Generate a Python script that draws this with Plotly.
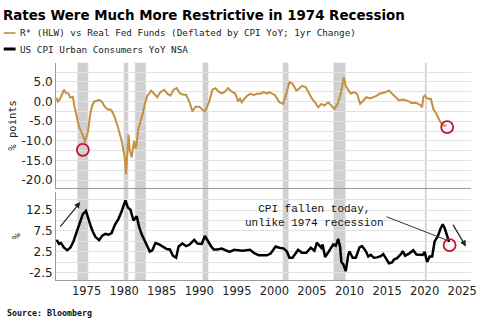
import plotly.graph_objects as go

# ---------------- data ----------------
rstar_dates = ["1971-01","1971-03","1971-06","1971-09","1972-01","1972-04","1972-08","1972-11",
 "1973-03","1973-06","1973-08","1973-11","1974-01","1974-05","1974-08","1974-10","1974-12",
 "1975-03","1975-07","1975-10","1976-01","1976-05","1976-09","1977-01","1977-06","1977-11",
 "1978-02","1978-05","1978-10","1979-03","1979-07","1979-09","1979-12","1980-02","1980-04",
 "1980-06","1980-08","1980-10","1981-01","1981-03","1981-05","1981-07","1981-09","1981-11",
 "1982-04","1982-07","1982-10","1983-02","1983-05","1983-08","1983-11","1984-02","1984-06",
 "1984-09","1984-12","1985-05","1985-10","1986-03","1986-08","1987-01","1987-06","1987-12",
 "1988-04","1988-09","1989-02","1989-07","1990-01","1990-06","1990-10","1991-01","1991-05",
 "1991-10","1992-03","1992-08","1993-01","1993-06","1993-11","1994-05","1994-10","1995-01",
 "1995-03","1995-06","1995-09","1996-01","1996-06","1996-11","1997-04","1997-09","1998-03",
 "1998-08","1999-02","1999-05","1999-10","2000-02","2000-09","2001-03","2001-08","2002-01",
 "2002-06","2002-09","2002-12","2003-04","2003-09","2004-03","2004-08","2005-01","2005-06",
 "2005-11","2006-04","2006-09","2007-03","2007-08","2008-01","2008-06","2008-11","2009-04",
 "2009-07","2009-10","2010-03","2010-08","2011-01","2011-06","2011-11","2012-04","2012-10",
 "2013-03","2013-09","2014-01","2014-06","2014-11","2015-04","2015-09","2016-01","2016-08",
 "2017-03","2017-07","2018-01","2018-04","2018-10","2019-03","2019-07","2019-09","2019-11",
 "2020-01","2020-06","2020-11","2021-03","2021-08","2022-01","2022-06","2022-12"]
rstar_vals = [1.0,0.0,0.5,1.5,3.0,2.2,2.0,1.0,
 1.2,-1.5,-3.1,-5.5,-6.5,-7.8,-9.0,-10.4,-9.5,
 -7.8,-3.1,-1.0,0.0,0.3,0.4,0.0,-1.3,-2.1,
 -2.0,-2.3,-4.0,-6.5,-8.5,-10.0,-12.5,-14.2,-18.5,
 -11.7,-8.4,-12.5,-14.2,-12.0,-10.0,-12.0,-10.9,-7.4,
 -4.9,-3.0,-0.6,1.5,2.0,2.8,2.3,1.8,1.1,
 2.0,2.5,3.0,2.0,1.5,3.0,3.4,2.1,1.7,
 1.7,0.0,-2.5,-1.3,-1.3,-2.1,-2.5,-1.5,0.0,
 3.0,3.4,2.5,2.1,2.5,3.4,2.5,2.1,1.0,
 0.0,0.7,-0.2,0.7,1.5,2.0,1.6,2.0,2.0,
 2.4,2.0,2.4,2.0,1.6,-0.2,-0.6,2.0,4.9,
 4.5,3.5,2.8,3.2,4.0,3.7,2.0,0.7,-0.2,
 -1.5,-0.6,-1.0,-0.2,-1.0,-1.9,-0.6,2.0,6.2,
 4.0,3.2,2.0,2.4,2.0,-0.6,0.3,1.1,0.8,
 1.1,1.5,2.0,2.2,2.4,2.8,2.0,1.2,0.3,
 0.5,0.3,0.0,-0.4,-0.3,-0.6,-1.0,-1.5,1.1,
 1.5,0.7,0.7,-1.9,-3.2,-4.9,-6.1,-6.1]

cpi_dates = ["1971-01","1971-05","1971-08","1972-01","1972-06","1972-11","1973-04","1973-10",
 "1974-03","1974-07","1974-12","1975-04","1975-08","1975-11","1976-03","1976-09","1977-02",
 "1977-07","1977-12","1978-05","1978-10","1979-04","1979-09","1980-03","1980-07","1980-11",
 "1981-04","1981-09","1982-01","1982-05","1982-10","1983-02","1983-06","1983-10","1984-03",
 "1984-09","1985-03","1985-09","1986-02","1986-07","1986-12","1987-04","1987-10","1988-04",
 "1988-09","1989-05","1989-10","1990-05","1990-10","1991-03","1991-08","1991-12","1992-06",
 "1993-01","1993-08","1994-01","1994-09","1995-03","1995-10","1996-04","1996-10","1997-05",
 "1997-12","1998-06","1999-01","1999-07","2000-03","2000-09","2001-04","2001-09","2002-01",
 "2002-06","2002-12","2003-03","2003-09","2004-04","2004-11","2005-05","2005-09","2006-04",
 "2006-06","2006-10","2007-04","2007-11","2008-03","2008-07","2008-10","2008-12","2009-03",
 "2009-07","2009-11","2010-01","2010-06","2010-11","2011-05","2011-09","2012-03","2012-07",
 "2012-11","2013-04","2013-09","2014-03","2014-07","2014-12","2015-04","2015-09","2015-12",
 "2016-05","2016-12","2017-02","2017-06","2017-12","2018-07","2018-12","2019-05","2019-10",
 "2020-01","2020-05","2020-09","2021-01","2021-05","2021-10","2022-02","2022-06","2022-09",
 "2022-12","2023-03","2023-04"]
cpi_vals = [5.4,4.4,4.6,3.5,2.9,3.5,5.0,7.7,
 10.2,11.5,12.3,10.2,8.5,7.3,6.1,5.3,6.4,
 6.8,6.6,7.0,8.9,10.4,12.2,14.8,13.1,12.6,
 10.0,11.0,8.4,6.7,5.1,3.5,2.6,2.9,4.6,
 4.3,3.7,3.2,3.1,1.6,1.1,3.8,4.5,3.9,
 4.2,5.4,4.5,4.4,6.3,4.9,3.8,3.1,3.1,
 3.3,2.8,2.5,3.0,2.9,2.8,2.9,3.0,2.2,
 1.7,1.7,1.7,2.1,3.8,3.5,3.3,2.6,1.1,
 1.1,2.4,3.0,2.3,2.3,3.5,2.8,4.7,3.5,
 4.3,1.3,2.6,4.3,4.0,5.6,3.7,0.1,-0.4,
 -2.1,1.8,2.6,1.1,1.1,3.6,3.9,2.7,1.4,
 1.8,1.1,1.2,1.5,2.0,0.8,-0.2,0.0,0.7,
 1.0,2.1,2.7,1.6,2.1,2.9,1.9,1.8,1.8,
 2.5,0.1,1.4,1.4,5.0,6.2,7.9,9.1,8.2,
 6.5,5.0,4.9]

recessions = [("1973-11-01","1975-03-01"),("1980-01-01","1980-07-01"),("1981-07-01","1982-11-01"),
              ("1990-07-01","1991-03-01"),("2001-03-01","2001-11-01"),("2007-12-01","2009-06-01"),
              ("2020-02-01","2020-04-01")]

circle_top_dates = ["1974-07-01","2023-01-01"]
circle_top_vals = [-12.3,-6.5]
circle_bot_dates = ["2023-05-01"]
circle_bot_vals = [4.1]

x_tick_years = [1975,1980,1985,1990,1995,2000,2005,2010,2015,2020,2025]
top_yticks = [-20,-15,-10,-5,0,5]
bot_yticks = [-2.5,2.5,7.5,12.5]

GOLD = "#C4913F"
RED = "#C8102E"
W, H = 485, 325
ML, MR, MT, MB = 56, 8, 63, 45
PW, PH = W - ML - MR, H - MT - MB

def px2x(px):
    return (px - ML) / PW

def py2y(py):
    return (H - MB - py) / PH

fig = go.Figure()
fig.add_trace(go.Scatter(x=rstar_dates, y=rstar_vals, mode="lines", line=dict(color=GOLD, width=2),
                         xaxis="x2", yaxis="y2", showlegend=False))
fig.add_trace(go.Scatter(x=cpi_dates, y=cpi_vals, mode="lines", line=dict(color="black", width=2.5),
                         xaxis="x", yaxis="y", showlegend=False))
fig.add_trace(go.Scatter(x=circle_top_dates, y=circle_top_vals, mode="markers",
                         marker=dict(symbol="circle-open", size=12, color=RED, line=dict(width=1.8, color=RED)),
                         xaxis="x2", yaxis="y2", showlegend=False))
fig.add_trace(go.Scatter(x=circle_bot_dates, y=circle_bot_vals, mode="markers",
                         marker=dict(symbol="circle-open", size=12, color=RED, line=dict(width=1.8, color=RED)),
                         xaxis="x", yaxis="y", showlegend=False))

shapes = []
for s, e in recessions:
    shapes.append(dict(type="rect", xref="x", yref="paper", x0=s, x1=e, y0=0, y1=1,
                       fillcolor="#D0D0D0", line=dict(width=0.6, color="#D0D0D0"), layer="below"))
shapes.append(dict(type="line", xref="x2 domain", yref="y2", x0=0, x1=1, y0=0, y1=0,
                   line=dict(color="#8A8A8A", width=1, dash="dash"), layer="below"))
# pointer line from text to circle
shapes.append(dict(type="line", xref="x", yref="y", x0="2014-12-01", y0=10.9, x1="2022-11-01", y1=5.4,
                   line=dict(color="#333333", width=1)))
# legend line keys
shapes.append(dict(type="line", xref="paper", yref="paper", x0=px2x(3), x1=px2x(15), y0=py2y(33), y1=py2y(33),
                   line=dict(color="#C9A46A", width=2)))
shapes.append(dict(type="line", xref="paper", yref="paper", x0=px2x(3), x1=px2x(15), y0=py2y(49), y1=py2y(49),
                   line=dict(color="black", width=3)))

mono = "DejaVu Sans Mono"
annotations = [
    dict(xref="paper", yref="paper", x=px2x(17), y=py2y(33), xanchor="left", yanchor="middle",
         text="R* (HLW) vs Real Fed Funds (Deflated by CPI YoY; 1yr Change)", showarrow=False,
         font=dict(family=mono, size=9.3, color="#222")),
    dict(xref="paper", yref="paper", x=px2x(17), y=py2y(49), xanchor="left", yanchor="middle",
         text="US CPI Urban Consumers YoY NSA", showarrow=False,
         font=dict(family=mono, size=9.3, color="#222")),
    dict(xref="paper", yref="paper", x=px2x(11), y=py2y(125), xanchor="center", yanchor="middle",
         text="% points", textangle=-90, showarrow=False, font=dict(family=mono, size=10.5, color="#222")),
    dict(xref="paper", yref="paper", x=px2x(15), y=py2y(236), xanchor="center", yanchor="middle",
         text="%", textangle=-90, showarrow=False, font=dict(family=mono, size=10.5, color="#222")),
    dict(xref="paper", yref="paper", x=px2x(4), y=py2y(313), xanchor="left", yanchor="middle",
         text="<b>Source: Bloomberg</b>", showarrow=False, font=dict(family=mono, size=8.3, color="#111")),
    dict(xref="x", yref="y", x="2005-05-01", y=11.0, xanchor="center", yanchor="middle",
         text="CPI fallen today,<br>unlike 1974 recession", showarrow=False,
         font=dict(family="Liberation Mono", size=11, color="#111")),
    dict(xref="x", yref="y", x="1974-03-01", y=14.4, ax="1971-05-01", ay=8.2, axref="x", ayref="y",
         text="", showarrow=True, arrowhead=2, arrowsize=1, arrowwidth=1.2, arrowcolor="#222"),
    dict(xref="x", yref="y", x="2025-07-01", y=3.8, ax="2023-09-01", ay=9.3, axref="x", ayref="y",
         text="", showarrow=True, arrowhead=2, arrowsize=1, arrowwidth=1.2, arrowcolor="#222"),
]

tickfont = dict(family="DejaVu Sans", size=12, color="#222")
grid = "#E2E2E2"
fig.update_layout(
    width=W, height=H, margin=dict(l=ML, r=MR, t=MT, b=MB),
    paper_bgcolor="white", plot_bgcolor="white",
    title=dict(text="<b>Rates Were Much More Restrictive in 1974 Recession</b>", x=3 / W, xanchor="left",
               xref="container", y=1 - 15 / H, yanchor="middle", yref="container",
               font=dict(family="DejaVu Sans", size=13.4, color="black")),
    xaxis=dict(domain=[0, 1], anchor="y", type="date", range=["1970-12-05", "2026-03-05"],
               tickvals=[f"{y}-01-01" for y in x_tick_years], ticktext=[str(y) for y in x_tick_years],
               showgrid=False, showline=True, linecolor="#9A9A9A", linewidth=1, ticks="",
               tickfont=dict(family="DejaVu Sans", size=11.5, color="#222")),
    xaxis2=dict(domain=[0, 1], anchor="y2", type="date", matches="x", showticklabels=False,
                showgrid=False, showline=True, linecolor="#9A9A9A", linewidth=1, ticks=""),
    yaxis=dict(domain=[0, py2y(192)], anchor="x", range=[-4.2, 16.8], tickvals=bot_yticks,
               ticktext=[f"{v:.1f}" for v in bot_yticks], showgrid=True, gridcolor=grid, zeroline=False,
               minor=dict(tickvals=[-2.5, 0, 2.5, 5, 7.5, 10, 12.5, 15], showgrid=True, gridcolor=grid),
               showline=True, linecolor="#9A9A9A", ticks="", tickfont=tickfont),
    yaxis2=dict(domain=[py2y(188), 1], anchor="x2", range=[-22.0, 9.8], tickvals=top_yticks,
                ticktext=[f"{v:.1f}" for v in top_yticks], showgrid=True, gridcolor=grid, zeroline=False,
                minor=dict(tickvals=[-20, -17.5, -15, -12.5, -10, -7.5, -5, -2.5, 2.5, 5, 7.5], showgrid=True,
                           gridcolor=grid),
                showline=True, linecolor="#9A9A9A", ticks="", tickfont=tickfont),
    shapes=shapes, annotations=annotations,
)

fig.write_html("out.html")
